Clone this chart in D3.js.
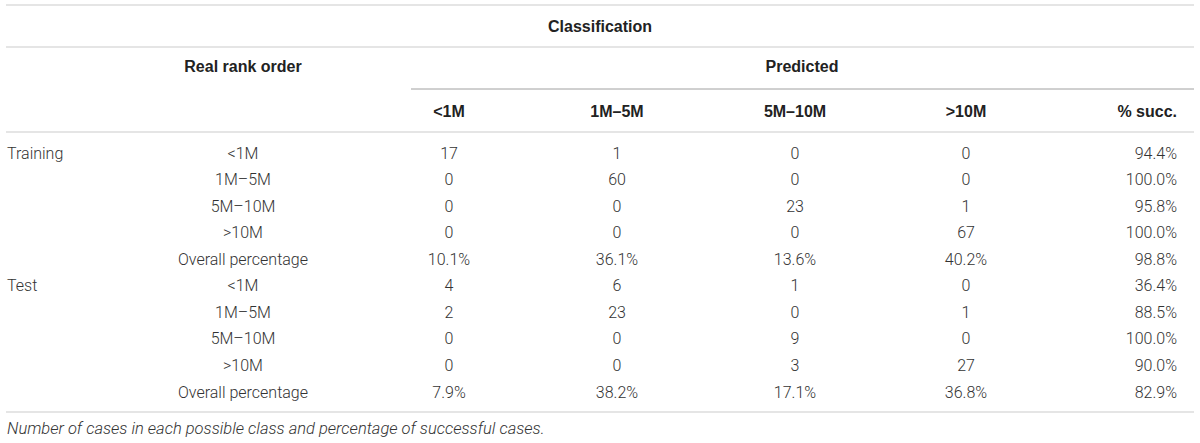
<!DOCTYPE html>
<html>
<head>
<meta charset="utf-8">
<script src="https://cdn.jsdelivr.net/npm/d3@7"></script>
<style>
  body { margin: 0; background: #fff; }
  text { font-family: "Roboto", "Liberation Sans", sans-serif; }
</style>
</head>
<body>
<svg id="drawing_region"></svg>
<script>
// table contents
const predictedClasses = ["<1M", "1M\u20135M", "5M\u201310M", ">10M"];
const rankLabels = ["<1M", "1M\u20135M", "5M\u201310M", ">10M", "Overall percentage"];
const groups = ["Training", "Test"];

const trainingCounts = [[17, 1, 0, 0], [0, 60, 0, 0], [0, 0, 23, 1], [0, 0, 0, 67]];
const trainingSucc = ["94.4%", "100.0%", "95.8%", "100.0%"];
const trainingOverall = ["10.1%", "36.1%", "13.6%", "40.2%", "98.8%"];

const testCounts = [[4, 6, 1, 0], [2, 23, 0, 1], [0, 0, 9, 0], [0, 0, 3, 27]];
const testSucc = ["36.4%", "88.5%", "100.0%", "90.0%"];
const testOverall = ["7.9%", "38.2%", "17.1%", "36.8%", "82.9%"];

const caption = "Number of cases in each possible class and percentage of successful cases.";

const config = {
    parent: "#drawing_region",
    width: 1200,
    height: 443,
    left: 6,
    right: 1194
};

const svg = d3.select(config.parent)
    .attr("width", config.width)
    .attr("height", config.height);

// build row records from the arrays
let rows = [];
[[trainingCounts, trainingSucc, trainingOverall], [testCounts, testSucc, testOverall]].forEach((g, gi) => {
    g[0].forEach((counts, i) => {
        rows.push({ group: i == 0 ? groups[gi] : "", rank: rankLabels[i], cells: counts.map(String).concat([g[1][i]]) });
    });
    rows.push({ group: "", rank: rankLabels[4], cells: g[2] });
});

// column positions
const cols = ["group", "rank"].concat(predictedClasses).concat(["succ"]);
const x = d3.scaleOrdinal()
    .domain(cols)
    .range([7, 243, 449, 617, 795, 966, 1177]);

const y = d3.scaleLinear()
    .domain([0, rows.length - 1])
    .range([153, 392]);

// rules
const rules = [
    { y: 5, x1: config.left, color: "#dcdcdc", w: 1.5 },
    { y: 47, x1: config.left, color: "#dcdcdc", w: 1.5 },
    { y: 89, x1: 411, color: "#a0a0a0", w: 1 },
    { y: 132, x1: config.left, color: "#dcdcdc", w: 1.5 },
    { y: 412, x1: config.left, color: "#dcdcdc", w: 1.5 }
];
svg.selectAll("line.rule")
    .data(rules)
    .enter()
    .append("line")
    .attr("class", "rule")
    .attr("x1", d => d.x1)
    .attr("x2", config.right)
    .attr("y1", d => d.y)
    .attr("y2", d => d.y)
    .attr("stroke", d => d.color)
    .attr("stroke-width", d => d.w);

// header
const bold = (t, px, py, anchor) => svg.append("text")
    .attr("x", px).attr("y", py)
    .attr("text-anchor", anchor || "middle")
    .attr("dominant-baseline", "central")
    .style("font-family", "'Liberation Sans', Arial, sans-serif")
    .style("font-weight", "bold")
    .style("font-size", "16px")
    .attr("fill", "#222")
    .text(t);

bold("Classification", 600, 26);
bold("Real rank order", x("rank"), 66);
bold("Predicted", 802, 66);

predictedClasses.forEach(c => bold(c, x(c), 111));
bold("% succ.", x("succ"), 111, "end");

// body
const body = svg.append("g")
    .style("font-size", "16px")
    .style("font-weight", "300")
    .attr("fill", "#333");

const rowG = body.selectAll("g.row")
    .data(rows)
    .enter()
    .append("g")
    .attr("class", "row")
    .attr("transform", (d, i) => `translate(0, ${y(i)})`);

rowG.append("text")
    .attr("x", x("group"))
    .attr("dominant-baseline", "central")
    .text(d => d.group);

rowG.append("text")
    .attr("x", x("rank"))
    .attr("text-anchor", "middle")
    .attr("dominant-baseline", "central")
    .text(d => d.rank);

rowG.selectAll("text.cell")
    .data(d => d.cells)
    .enter()
    .append("text")
    .attr("class", "cell")
    .attr("x", (d, i) => x(cols[i + 2]))
    .attr("text-anchor", (d, i) => i == 4 ? "end" : "middle")
    .attr("dominant-baseline", "central")
    .text(d => d);

// caption
svg.append("text")
    .attr("x", 7)
    .attr("y", 428)
    .attr("dominant-baseline", "central")
    .style("font-size", "16.5px")
    .style("font-weight", "300")
    .style("font-style", "italic")
    .attr("fill", "#333")
    .text(caption);
</script>
</body>
</html>
